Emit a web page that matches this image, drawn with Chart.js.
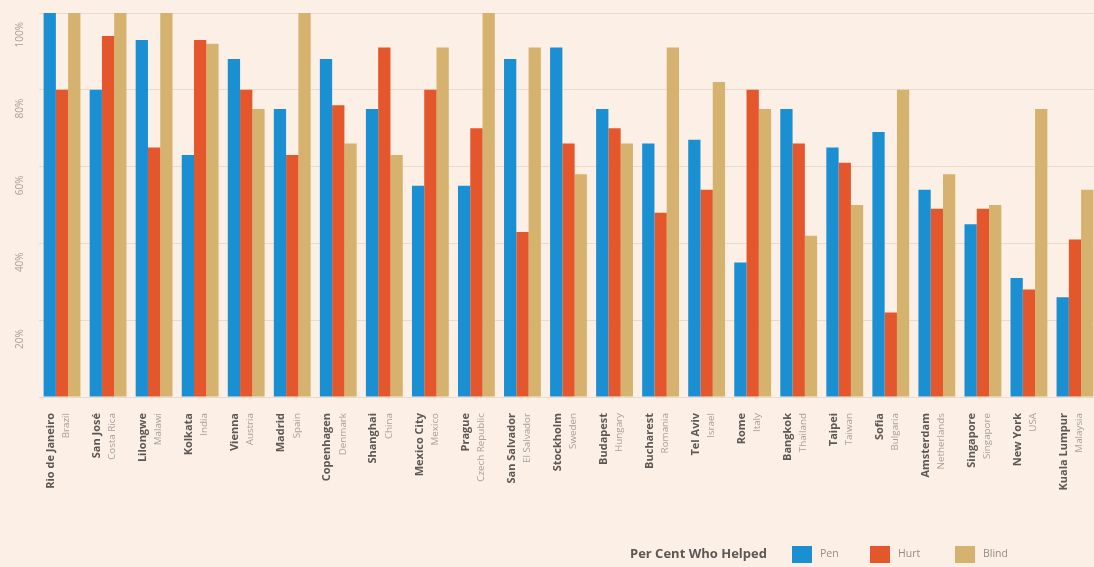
<!DOCTYPE html>
<html>
<head>
<meta charset="utf-8">
<script src="https://cdn.jsdelivr.net/npm/chart.js@4.4.1/dist/chart.umd.min.js"></script>
<style>
  html, body { margin: 0; padding: 0; overflow: hidden; background: #fcefe6; }
  #wrap { width: 1098px; height: 567px; position: relative; }
</style>
</head>
<body>
<div id="wrap"><canvas id="c" width="1098" height="567"></canvas></div>
<script>
const cities = ["Rio de Janeiro","San José","Lilongwe","Kolkata","Vienna","Madrid","Copenhagen","Shanghai","Mexico City","Prague","San Salvador","Stockholm","Budapest","Bucharest","Tel Aviv","Rome","Bangkok","Taipei","Sofia","Amsterdam","Singapore","New York","Kuala Lumpur"];
const countries = ["Brazil","Costa Rica","Malawi","India","Austria","Spain","Denmark","China","Mexico","Czech Republic","El Salvador","Sweden","Hungary","Romania","Israel","Italy","Thailand","Taiwan","Bulgaria","Netherlands","Singapore","USA","Malaysia"];
const pen   = [100, 80, 93, 63, 88, 75, 88, 75, 55, 55, 88, 91, 75, 66, 67, 35, 75, 65, 69, 54, 45, 31, 26];
const hurt  = [80, 94, 65, 93, 80, 63, 76, 91, 80, 70, 43, 66, 70, 48, 54, 80, 66, 61, 22, 49, 49, 28, 41];
const blind = [100, 100, 100, 92, 75, 100, 66, 63, 91, 100, 91, 58, 66, 91, 82, 75, 42, 50, 80, 58, 50, 75, 54];
const yTicks = [20, 40, 60, 80, 100];
const seriesNames = ["Pen", "Hurt", "Blind"];
const legendTitle = "Per Cent Who Helped";

const colors = ["#1a8fd1", "#e4572d", "#d6b26f"];

const labelPlugin = {
  id: 'labels',
  afterDraw(chart) {
    const ctx = chart.ctx;
    const xs = chart.scales.x, ys = chart.scales.y;
    ctx.save();
    // y tick labels (rotated)
    ctx.fillStyle = "#a89f99";
    ctx.font = "10px 'Open Sans'";
    ctx.textAlign = "right";
    ctx.textBaseline = "middle";
    yTicks.forEach(v => {
      const y = ys.getPixelForValue(v);
      ctx.save();
      ctx.translate(20, y + 9);
      ctx.rotate(-Math.PI / 2);
      ctx.fillText(v + "%", 0, 0);
      ctx.restore();
    });
    // x labels: city + country, rotated
    cities.forEach((c, i) => {
      const cx = xs.getPixelForValue(i);
      ctx.save();
      ctx.translate(cx - 11, 413);
      ctx.rotate(-Math.PI / 2);
      ctx.fillStyle = "#5e5854";
      ctx.font = "bold 11px 'Open Sans'";
      ctx.fillText(c, 0, 0);
      ctx.restore();
      ctx.save();
      ctx.translate(cx + 4.5, 413);
      ctx.rotate(-Math.PI / 2);
      ctx.fillStyle = "#a8a09b";
      ctx.font = "9.8px 'Open Sans'";
      ctx.fillText(countries[i], 0, 0);
      ctx.restore();
    });
    // legend
    ctx.textAlign = "left";
    ctx.textBaseline = "middle";
    ctx.fillStyle = "#5e5854";
    ctx.font = "bold 13px 'Open Sans'";
    ctx.fillText(legendTitle, 630, 554);
    const boxX = [792, 870, 955];
    chart.data.datasets.forEach((ds, i) => {
      ctx.fillStyle = ds.backgroundColor;
      ctx.fillRect(boxX[i], 546, 20, 17);
      ctx.fillStyle = "#958c87";
      ctx.font = "10.5px 'Open Sans'";
      ctx.fillText(ds.label, boxX[i] + 28, 554);
    });
    ctx.restore();
  }
};

new Chart(document.getElementById('c'), {
  type: 'bar',
  data: {
    labels: cities,
    datasets: [
      { label: seriesNames[0], data: pen,   backgroundColor: colors[0] },
      { label: seriesNames[1], data: hurt,  backgroundColor: colors[1] },
      { label: seriesNames[2], data: blind, backgroundColor: colors[2] }
    ]
  },
  options: {
    responsive: false,
    animation: false,
    layout: { padding: { left: 39, right: 0, top: 13, bottom: 170 } },
    datasets: { bar: { categoryPercentage: 0.8, barPercentage: 1.0 } },
    plugins: { legend: { display: false }, tooltip: { enabled: false } },
    scales: {
      x: {
        ticks: { display: false },
        grid: { display: false },
        border: { display: false },
        afterFit: s => { s.height = 0; }
      },
      y: {
        min: 0, max: 100,
        ticks: { display: false, stepSize: 20 },
        grid: { color: "rgba(220,190,170,0.45)", drawTicks: false, lineWidth: 1 },
        border: { display: false },
        afterFit: s => { s.width = 0; }
      }
    }
  },
  plugins: [labelPlugin]
});
</script>
</body>
</html>
